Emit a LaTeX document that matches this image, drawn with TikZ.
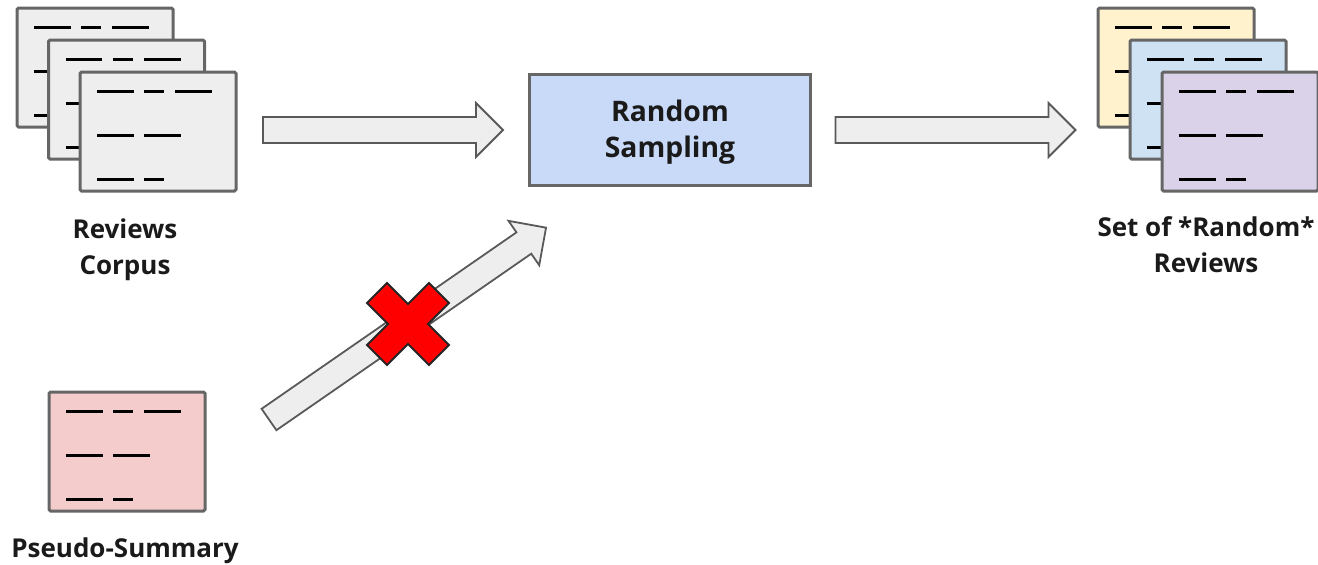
\documentclass[tikz,border=0pt]{standalone}
\usepackage{fontspec}
\setmainfont{Open Sans}
\usetikzlibrary{calc}
\definecolor{docgray}{HTML}{EEEEEE}
\definecolor{edgegray}{HTML}{666666}
\definecolor{arrowedge}{HTML}{595959}
\definecolor{boxblue}{HTML}{C9DAF8}
\definecolor{docyellow}{HTML}{FFF2CC}
\definecolor{docblue}{HTML}{CFE2F3}
\definecolor{docpurple}{HTML}{D9D2E9}
\definecolor{docpink}{HTML}{F4CCCC}
\definecolor{crossred}{HTML}{FF0000}
\definecolor{crossedge}{HTML}{262626}
\definecolor{inkdark}{HTML}{1A1A1A}

\tikzset{
  docframe/.style={draw=edgegray, line width=3pt, rounded corners=1.5pt,
    minimum width=156pt, minimum height=119pt, inner sep=0pt, anchor=north west},
  docline/.style={line width=3pt, black},
  % text box sized so the two baselines land at fixed offsets in the box
  procbox/.style={draw=edgegray, fill=boxblue, line width=3pt,
    minimum width=281pt, minimum height=111pt, inner sep=0pt, align=center,
    text height=60pt, text depth=6pt,
    font=\bfseries\fontsize{28.3}{36}\selectfont, text=inkdark},
  arrowline/.style={draw=arrowedge, fill=docgray, line width=1.8pt, line join=miter},
  crossmark/.style={draw=crossedge, fill=crossred, line width=1.8pt, line join=miter},
  lbltext/.style={font=\bfseries\fontsize{26}{36}\selectfont, align=center,
    anchor=base, inner sep=0pt, text=inkdark},
  pics/blockarrow/.style={code={
    \draw[arrowline] (0,-13) -- ({#1-27},-13) -- ({#1-27},-27) -- (#1,0)
      -- ({#1-27},27) -- ({#1-27},13) -- (0,13) -- cycle;}},
}

% a page: frame node plus three rows of text dashes
\newcommand{\docpage}[4]{%
  \node[docframe, fill=#2] (#1) at (#3,#4) {};
  \begin{scope}[shift={(#1.north west)}]
    \draw[docline] (18.5,20.5) -- (55,20.5) (65.5,20.5) -- (85.5,20.5) (96.5,20.5) -- (133.5,20.5)
                   (18.5,64.5) -- (55,64.5) (65.5,64.5) -- (102.5,64.5)
                   (18.5,108.5) -- (55,108.5) (65.5,108.5) -- (85.5,108.5);
  \end{scope}}

\begin{document}
\begin{tikzpicture}[x=1pt, y=-1pt]
  \useasboundingbox (0,0) rectangle (1318,565);

  % input corpus
  \docpage{rev1}{docgray}{15.5}{6.5}
  \docpage{rev2}{docgray}{47}{38.5}
  \docpage{rev3}{docgray}{78.5}{70.5}
  % base anchor of a multi-line label sits on its last line
  \node[lbltext] (corpuslbl) at (125,274) {Reviews\\Corpus};

  % pseudo-summary
  \docpage{pseudo}{docpink}{47.5}{390.5}
  \node[lbltext] (pseudolbl) at (125,557) {Pseudo-Summary};

  % sampling step
  \node[procbox] (samp) at (670,130) {Random\\Sampling};

  % output set
  \docpage{out1}{docyellow}{1096.5}{6.5}
  \docpage{out2}{docblue}{1128.5}{38.5}
  \docpage{out3}{docpurple}{1160.5}{70.5}
  \node[lbltext] (setlbl) at (1206,272) {Set of *Random*\\Reviews};

  % block arrows
  \pic (arrin) at ($(samp.west)+(-265,0)$) {blockarrow=240};
  \pic (arrout) at ($(samp.east)+(23.5,0)$) {blockarrow=240};
  \pic[rotate=34.7] (arrdiag) at (269,419.5) {blockarrow=337};

  % crossed-out mark over the diagonal arrow
  \draw[crossmark, shift={(408,324)}]
    (-21,-41) -- (0,-20) -- (21,-41) -- (41,-21) -- (20,0) -- (41,21)
    -- (21,41) -- (0,20) -- (-21,41) -- (-41,21) -- (-20,0) -- (-41,-21) -- cycle;
\end{tikzpicture}
\end{document}
